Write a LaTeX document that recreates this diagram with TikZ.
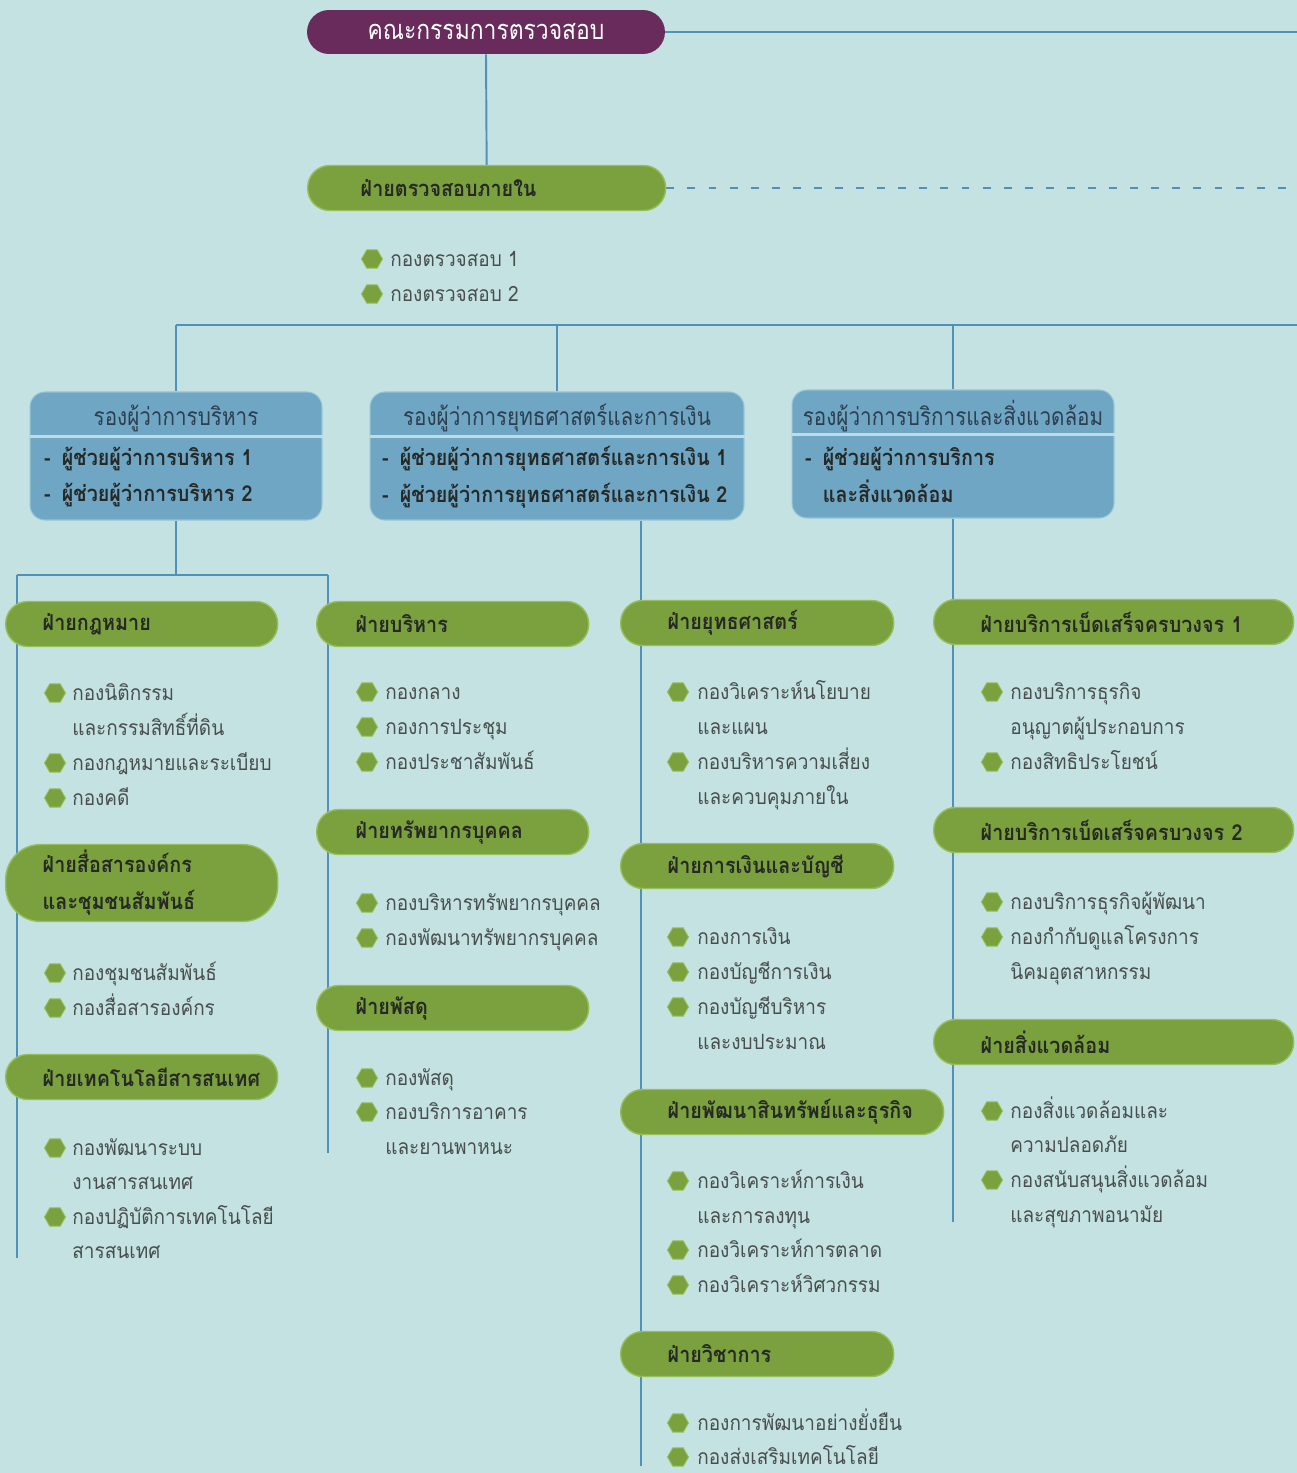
\documentclass[tikz,border=0pt]{standalone}
\usepackage{fontspec}
\newfontfamily\thaifont[Script=Thai,FakeStretch=0.9]{Loma}
\newfontfamily\thaithin[Script=Thai,FakeStretch=0.84]{Loma}
\usetikzlibrary{backgrounds,shapes.geometric}

\definecolor{pagebg}{RGB}{196,226,225}
\definecolor{linkblue}{RGB}{78,146,186}
\definecolor{boardpurple}{RGB}{104,43,92}
\definecolor{deptgreen}{RGB}{122,161,62}
\definecolor{deptrim}{RGB}{150,190,90}
\definecolor{vpblue}{RGB}{110,166,196}
\definecolor{vprim}{RGB}{150,195,215}
\definecolor{hdtext}{RGB}{38,40,38}
\definecolor{vptext}{RGB}{45,62,78}
\definecolor{itemgray}{RGB}{72,78,78}

\begin{document}
\begin{tikzpicture}[
  x=0.02cm, y=-0.02cm,
  font=\thaifont,
  link/.style={draw=linkblue, line width=1.1pt},
  board/.style={
    fill=boardpurple,
    text=white,
    rounded corners=0.44cm,
    minimum width=7.16cm,
    minimum height=0.88cm,
    font=\thaithin\fontsize{15.5}{18}\selectfont
  },
  gbar/.style 2 args={
    fill=deptgreen,
    draw=deptrim,
    line width=0.8pt,
    rounded corners=0.44cm,
    minimum height=0.9cm,
    anchor=west,
    align=left,
    text width=#1,
    inner xsep=#2,
    text=hdtext,
    font=\thaifont\bfseries\fontsize{12.5}{21}\selectfont
  },
  vpbox/.style={
    fill=vpblue,
    draw=vprim,
    line width=0.6pt,
    rounded corners=0.3cm
  },
  vptitle/.style={text=vptext, font=\thaithin\fontsize{14}{17}\selectfont},
  vpitem/.style={
    anchor=west,
    align=left,
    text=hdtext,
    font=\thaifont\bfseries\fontsize{12.5}{21}\selectfont
  },
  divline/.style={draw=vprim!60!white, line width=1.6pt},
  item/.style={
    anchor=base west,
    inner sep=0pt,
    text=itemgray,
    font=\thaifont\fontsize{12}{14}\selectfont
  },
  bullet/.style={
    regular polygon,
    regular polygon sides=6,
    fill=deptgreen,
    draw=deptrim,
    line width=0.5pt,
    minimum size=0.42cm,
    inner sep=0pt
  }
]
\useasboundingbox (0,0) rectangle (1297,1473);

% top: board and internal audit
\node[board] (board) at (486,32) {คณะกรรมการตรวจสอบ};
\node[gbar={5.04cm}{1.06cm}] (audit) at (307,188) {ฝ่ายตรวจสอบภายใน};
\foreach \n/\yy in {1/259, 2/294}{
  \node[bullet] (dZ\n) at (372,\yy) {};
  \node[item] (kZ\n) at (390,\yy+7) {กองตรวจสอบ \n};
}

% deputy governors
\node[vpbox, minimum width=5.84cm, minimum height=2.56cm] (vpA) at (176,456) {};
\node[vptitle] (vpAt) at (176,418) {รองผู้ว่าการบริหาร};
\node[vpitem] (vpAi) at (38,477) {-\enspace ผู้ช่วยผู้ว่าการบริหาร 1\\-\enspace ผู้ช่วยผู้ว่าการบริหาร 2};

\node[vpbox, minimum width=7.48cm, minimum height=2.56cm] (vpB) at (557,456) {};
\node[vptitle] (vpBt) at (557,418) {รองผู้ว่าการยุทธศาสตร์และการเงิน};
\node[vpitem] (vpBi) at (376,477) {-\enspace ผู้ช่วยผู้ว่าการยุทธศาสตร์และการเงิน 1\\-\enspace ผู้ช่วยผู้ว่าการยุทธศาสตร์และการเงิน 2};

\node[vpbox, minimum width=6.44cm, minimum height=2.56cm] (vpC) at (953,454) {};
\node[vptitle] (vpCt) at (953,416) {รองผู้ว่าการบริการและสิ่งแวดล้อม};
\node[vpitem] (vpCi) at (799,475) {-\enspace ผู้ช่วยผู้ว่าการบริการ\\\phantom{-}\enspace และสิ่งแวดล้อม};

% column 1
\node[gbar={3.96cm}{0.74cm}] (law) at (5,624) {ฝ่ายกฎหมาย};
\node[gbar={3.96cm}{0.74cm}, minimum height=1.54cm, rounded corners=0.7cm] (comm) at (5,883) {ฝ่ายสื่อสารองค์กร\\และชุมชนสัมพันธ์};
\node[gbar={3.96cm}{0.74cm}] (itd) at (5,1077) {ฝ่ายเทคโนโลยีสารสนเทศ};
\foreach \n/\yy/\b/\tx in {1/693/1/กองนิติกรรม, 2/728/0/และกรรมสิทธิ์ที่ดิน,
    3/763/1/กองกฎหมายและระเบียบ, 4/798/1/กองคดี,
    5/973/1/กองชุมชนสัมพันธ์, 6/1008/1/กองสื่อสารองค์กร,
    7/1148/1/กองพัฒนาระบบ, 8/1182/0/งานสารสนเทศ,
    9/1217/1/กองปฏิบัติการเทคโนโลยี, 10/1251/0/สารสนเทศ}{
  \node[item] (kA\n) at (72,\yy+7) {\tx};
  \ifnum\b=1 \node[bullet] (dA\n) at (55,\yy) {};\fi
}

% column 2
\node[gbar={3.88cm}{0.78cm}] (admin) at (316,624) {ฝ่ายบริหาร};
\node[gbar={3.88cm}{0.78cm}] (hr) at (316,832) {ฝ่ายทรัพยากรบุคคล};
\node[gbar={3.88cm}{0.78cm}] (supply) at (316,1008) {ฝ่ายพัสดุ};
\foreach \n/\yy/\b/\tx in {1/692/1/กองกลาง, 2/727/1/กองการประชุม, 3/762/1/กองประชาสัมพันธ์,
    4/903/1/กองบริหารทรัพยากรบุคคล, 5/938/1/กองพัฒนาทรัพยากรบุคคล,
    6/1078/1/กองพัสดุ, 7/1112/1/กองบริการอาคาร, 8/1147/0/และยานพาหนะ}{
  \node[item] (kB\n) at (385,\yy+7) {\tx};
  \ifnum\b=1 \node[bullet] (dB\n) at (367,\yy) {};\fi
}

% column 3
\node[gbar={3.58cm}{0.94cm}] (strat) at (620,623) {ฝ่ายยุทธศาสตร์};
\node[gbar={3.58cm}{0.94cm}] (fin) at (620,866) {ฝ่ายการเงินและบัญชี};
\node[gbar={4.58cm}{0.94cm}] (asset) at (620,1112) {ฝ่ายพัฒนาสินทรัพย์และธุรกิจ};
\node[gbar={3.58cm}{0.94cm}] (acad) at (620,1354) {ฝ่ายวิชาการ};
\foreach \n/\yy/\b/\tx in {1/692/1/กองวิเคราะห์นโยบาย, 2/727/0/และแผน,
    3/762/1/กองบริหารความเสี่ยง, 4/797/0/และควบคุมภายใน,
    5/937/1/กองการเงิน, 6/972/1/กองบัญชีการเงิน, 7/1007/1/กองบัญชีบริหาร, 8/1042/0/และงบประมาณ,
    9/1181/1/กองวิเคราะห์การเงิน, 10/1216/0/และการลงทุน,
    11/1250/1/กองวิเคราะห์การตลาด, 12/1285/1/กองวิเคราะห์วิศวกรรม,
    13/1423/1/กองการพัฒนาอย่างยั่งยืน, 14/1457/1/กองส่งเสริมเทคโนโลยี}{
  \node[item] (kC\n) at (697,\yy+7) {\tx};
  \ifnum\b=1 \node[bullet] (dC\n) at (678,\yy) {};\fi
}

% column 4
\node[gbar={5.32cm}{0.94cm}] (oss1) at (933,622) {ฝ่ายบริการเบ็ดเสร็จครบวงจร~1};
\node[gbar={5.32cm}{0.94cm}] (oss2) at (933,830) {ฝ่ายบริการเบ็ดเสร็จครบวงจร~2};
\node[gbar={5.32cm}{0.94cm}] (env) at (933,1042) {ฝ่ายสิ่งแวดล้อม};
\foreach \n/\yy/\b/\tx in {1/692/1/กองบริการธุรกิจ, 2/727/0/อนุญาตผู้ประกอบการ, 3/762/1/กองสิทธิประโยชน์,
    4/902/1/กองบริการธุรกิจผู้พัฒนา, 5/937/1/กองกำกับดูแลโครงการ, 6/972/0/นิคมอุตสาหกรรม,
    7/1111/1/กองสิ่งแวดล้อมและ, 8/1145/0/ความปลอดภัย,
    9/1180/1/กองสนับสนุนสิ่งแวดล้อม, 10/1215/0/และสุขภาพอนามัย}{
  \node[item] (kD\n) at (1010,\yy+7) {\tx};
  \ifnum\b=1 \node[bullet] (dD\n) at (992,\yy) {};\fi
}

% free ends of the connectors
\coordinate (edgeT) at (1297,32);
\coordinate (edgeA) at (1297,188);
\coordinate (busL) at (176,325);
\coordinate (busR) at (1297,325);
\coordinate (jA) at (176,575);
\coordinate (spA) at (17,575);
\coordinate (spAend) at (17,1258);
\coordinate (spB) at (328,575);
\coordinate (spBend) at (328,1153);
\coordinate (spC) at (641,1466);
\coordinate (spD) at (953,1222);

\begin{scope}[on background layer]
\fill[pagebg] (0,0) rectangle (1297,1473);
\draw[link] (board.east) -- (edgeT);
\draw[link] (board.south) -- (audit.north);
\draw[link, dash pattern=on 4.5pt off 7.5pt] (audit.east) -- (edgeA);
\draw[link] (busL) -- (busR);
\draw[link] (busL) -- (vpA.north);
\draw[link] (vpB.north |- busL) -- (vpB.north);
\draw[link] (vpC.north |- busL) -- (vpC.north);
\draw[link] (vpA.south) -- (jA);
\draw[link] (spA) -- (spB);
\draw[link] (spA) -- (spAend);
\draw[link] (spB) -- (spBend);
\draw[link] (vpB.south -| spC) -- (spC);
\draw[link] (vpC.south) -- (spD);
\end{scope}

% divider inside the deputy boxes
\draw[divline] ([yshift=-0.9cm]vpA.north west) -- ([yshift=-0.9cm]vpA.north east);
\draw[divline] ([yshift=-0.9cm]vpB.north west) -- ([yshift=-0.9cm]vpB.north east);
\draw[divline] ([yshift=-0.9cm]vpC.north west) -- ([yshift=-0.9cm]vpC.north east);
\end{tikzpicture}
\end{document}
